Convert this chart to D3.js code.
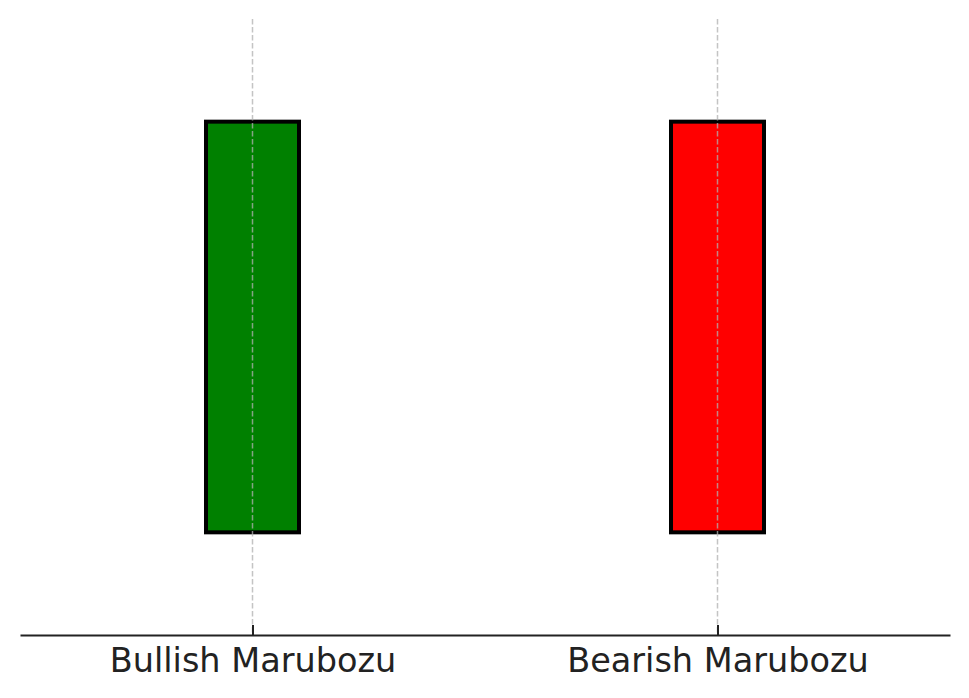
<!DOCTYPE html>
<html><head><meta charset="utf-8">
<script src="https://cdn.jsdelivr.net/npm/d3@7"></script>
<style>body{margin:0;background:#fff}svg{display:block}</style>
</head><body><svg id="c" width="969" height="698"></svg>
<script>
const categories = ["Bullish Marubozu", "Bearish Marubozu"];
const opens = [100, 120];
const closes = [120, 100];
const colors = ["green", "red"];
const yDomain = [95, 125];

const svg = d3.select("#c");
const x = d3.scaleLinear().domain([-0.5, 1.5]).range([20, 950]);
const y = d3.scaleLinear().domain(yDomain).range([635, 19]);
const bw = 0.2;

// bars
svg.selectAll("rect.bar").data(categories).enter().append("rect")
  .attr("x", (d,i) => x(i - bw/2))
  .attr("width", (d,i) => x(i + bw/2) - x(i - bw/2))
  .attr("y", (d,i) => y(Math.max(opens[i], closes[i])))
  .attr("height", (d,i) => Math.abs(y(opens[i]) - y(closes[i])))
  .attr("fill", (d,i) => colors[i])
  .attr("stroke", "#000").attr("stroke-width", 4);

// grid
svg.selectAll("line.grid").data(categories).enter().append("line")
  .attr("x1", (d,i) => x(i)).attr("x2", (d,i) => x(i))
  .attr("y1", y(yDomain[1])).attr("y2", y(yDomain[0]))
  .attr("stroke", "#b0b0b0").attr("stroke-opacity", 0.75)
  .attr("stroke-width", 1.5).attr("stroke-dasharray", "5.5,2.5");

// axis
const ax = svg.append("g").attr("transform", `translate(0,${y(yDomain[0])})`)
  .call(d3.axisBottom(x).tickValues([0,1]).tickFormat(i => categories[i]).tickSizeInner(-10).tickSizeOuter(0).tickPadding(22));
ax.select(".domain").attr("stroke", "#222").attr("stroke-width", 2.2);
ax.selectAll(".tick line").attr("stroke", "#222").attr("stroke-width", 2);
ax.selectAll(".tick text").attr("fill", "#222").attr("font-family", "DejaVu Sans").attr("font-size", 33.5)
  .attr("y", 37).attr("dy", 0);
</script></body></html>
